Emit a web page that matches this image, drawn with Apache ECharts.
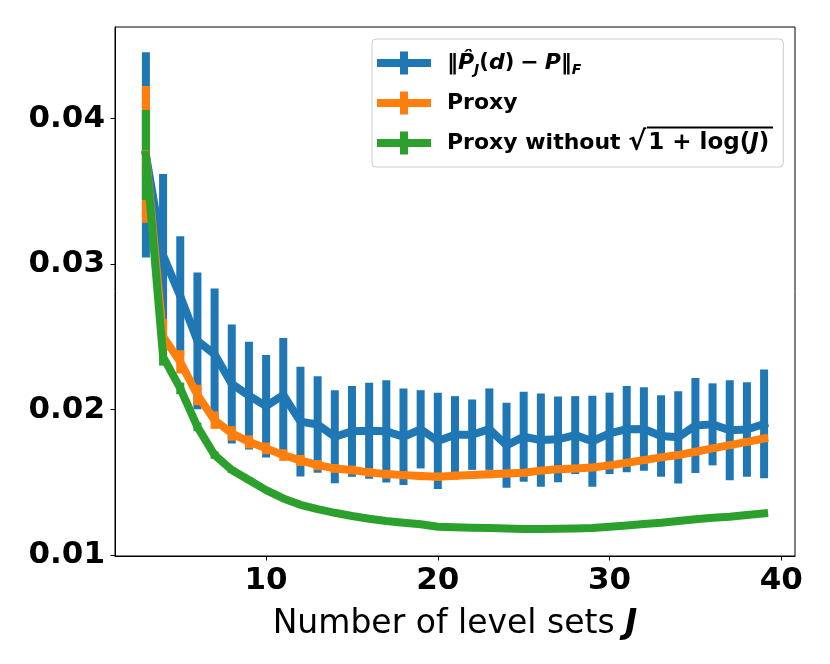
<!DOCTYPE html>
<html>
<head>
<meta charset="utf-8">
<script src="https://cdn.jsdelivr.net/npm/echarts@6/dist/echarts.min.js"></script>
<style>html,body{margin:0;padding:0;background:#fff;}#c{width:830px;height:664px;}</style>
</head>
<body>
<div id="c"></div>
<script>
const J = [3,4,5,6,7,8,9,10,11,12,13,14,15,16,17,18,19,20,21,22,23,24,25,26,27,28,29,30,31,32,33,34,35,36,37,38,39];
const normMean = [0.03751,0.0306,0.02779,0.02472,0.0238,0.02176,0.02096,0.02023,0.02100,0.01917,0.01897,0.01813,0.0185,0.01854,0.0185,0.01813,0.01864,0.01784,0.01827,0.01827,0.01865,0.01754,0.01813,0.0179,0.01795,0.01824,0.01782,0.01836,0.01865,0.01866,0.01818,0.01809,0.0189,0.01898,0.01858,0.01863,0.01901];
const normErr = [0.00706,0.0056,0.00412,0.0047,0.00452,0.00409,0.0037,0.00352,0.00392,0.00377,0.00332,0.0032,0.00312,0.0033,0.00352,0.00332,0.00269,0.00331,0.00265,0.00242,0.0028,0.00292,0.00309,0.00321,0.00295,0.00268,0.00313,0.0028,0.00297,0.00287,0.0028,0.00317,0.00326,0.00282,0.00344,0.00325,0.00374];
const proxyMean = [0.03755,0.0250,0.02328,0.0210,0.01927,0.01836,0.01778,0.01733,0.01687,0.0165,0.01618,0.01595,0.01584,0.01568,0.01556,0.01549,0.01543,0.01538,0.01545,0.0155,0.01555,0.0156,0.01565,0.0158,0.0159,0.01595,0.01602,0.01616,0.01634,0.01652,0.01671,0.01687,0.0171,0.01733,0.01755,0.01778,0.01801];
const proxyErr = [0.0047,0.0012,0.0008,0.0007,0.0006,0.0005,0.00045,0.0004,0.0004,0.00038,0.00035,0.0003,0.0003,0.0003,0.0003,0.00028,0.00028,0.00028,0.00028,0.00027,0.00027,0.00027,0.00027,0.00026,0.00026,0.00026,0.00026,0.00026,0.00025,0.00025,0.00025,0.00025,0.00025,0.00025,0.00025,0.00025,0.00025];
const proxy0Mean = [0.0375,0.02362,0.02145,0.01881,0.01687,0.01584,0.01515,0.01446,0.01389,0.01345,0.01315,0.0129,0.01268,0.01249,0.01234,0.01222,0.01211,0.01194,0.0119,0.01188,0.01185,0.01182,0.01178,0.01178,0.0118,0.01182,0.01185,0.01194,0.01203,0.01213,0.01222,0.01234,0.01245,0.01256,0.01263,0.01275,0.01286];
const proxy0Err = [0.0031,0.0006,0.0004,0.0003,0.00025,0.0002,0.0002,0.00015,0.00015,0.00015,0.00012,0.00012,0.00012,0.0001,0.0001,0.0001,0.0001,0.0001,0.0001,0.0001,0.0001,0.0001,0.0001,0.0001,0.0001,0.0001,0.0001,0.0001,0.0001,0.0001,0.0001,0.0001,0.0001,0.0001,0.0001,0.0001,0.0001];
const xTicks = [10,20,30,40];
const yTicks = [0.01,0.02,0.03,0.04];

const C_BLUE = '#1f77b4', C_ORANGE = '#ff7f0e', C_GREEN = '#2ca02c';
const FONT = 'DejaVu Sans';

function lineData(mean){ return J.map((j,i)=>[j, mean[i]]); }
function errData(mean, err){ return J.map((j,i)=>[j, mean[i]-err[i], mean[i]+err[i]]); }
function errSeries(name, mean, err, color){
  return {
    type:'custom', name: name + '_err', data: errData(mean, err),
    encode:{x:0, y:[1,2]}, clip:true, silent:true,
    renderItem:function(params, api){
      const x = api.value(0), lo = api.value(1), hi = api.value(2);
      const p1 = api.coord([x, hi]), p2 = api.coord([x, lo]);
      const w = 8;
      return {type:'rect', shape:{x:p1[0]-w/2, y:p1[1], width:w, height:p2[1]-p1[1]}, style:{fill:color}};
    }
  };
}
function lineSeries(name, mean, color){
  return {type:'line', name:name, data:lineData(mean), showSymbol:false, symbol:'none',
    lineStyle:{width:8, color:color, cap:'square', join:'round'}, itemStyle:{color:color}};
}

const legendText = {
  norm: '{b|‖}{i|P̂}{s|J}{p|(}{i|d}{p|)}{m|−}{i|P}{b|‖}{s|F}',
  proxy: '{b|Proxy}',
  proxy0: '{b|Proxy without }{r|√}{q|1 + log(}{j|J}{q|)}'
};

const chart = echarts.init(document.getElementById('c'), null, {renderer:'canvas'});
chart.setOption({
  animation:false,
  backgroundColor:'#fff',
  grid:{left:115, right:35, top:27, bottom:108, show:true, borderColor:'#000', borderWidth:1, containLabel:false},
  xAxis:{
    type:'value', min:1.2, max:40.8,
    name:'{n|Number of level sets }{j|J}', nameLocation:'middle', nameGap:52,
    nameTextStyle:{rich:{
      n:{fontFamily:FONT, fontSize:33, color:'#000'},
      j:{fontFamily:FONT, fontSize:33, fontWeight:'bold', fontStyle:'italic', color:'#000'}
    }},
    axisLine:{show:true, lineStyle:{color:'#000', width:1}},
    axisTick:{show:true, length:4.5, lineStyle:{color:'#000'}, customValues:xTicks},
    axisLabel:{show:true, customValues:xTicks, fontFamily:FONT, fontSize:31, fontWeight:'bold', color:'#000', margin:9},
    splitLine:{show:false}
  },
  yAxis:{
    type:'value', min:0.00993, max:0.0463,
    axisLine:{show:true, lineStyle:{color:'#000', width:1}},
    axisTick:{show:true, length:4.5, lineStyle:{color:'#000'}, customValues:yTicks},
    axisLabel:{show:true, customValues:yTicks, fontFamily:FONT, fontSize:31, fontWeight:'bold', color:'#000', margin:10,
      formatter:function(v){return v.toFixed(2);}},
    splitLine:{show:false}
  },
  legend:{
    orient:'vertical', left:372, top:39,
    data:['norm','proxy','proxy0'],
    icon:'path://M0,7.5H54V15.5H0Z M23,0H31V23H23Z',
    itemWidth:54, itemHeight:23, itemGap:12,
    padding:[10,14,10,5],
    backgroundColor:'rgba(255,255,255,0.8)', borderColor:'#ccc', borderWidth:1, borderRadius:4,
    selectedMode:false,
    formatter:function(name){return legendText[name];},
    textStyle:{color:'#000', fontFamily:FONT, fontSize:22, fontWeight:'bold', padding:[0,0,0,11], lineHeight:28,
      rich:{
        b:{fontFamily:FONT, fontSize:22, fontWeight:'bold', color:'#000', lineHeight:28},
        i:{fontFamily:FONT, fontSize:22, fontWeight:'bold', fontStyle:'italic', color:'#000', lineHeight:28},
        p:{fontFamily:FONT, fontSize:21, fontWeight:'bold', color:'#000', lineHeight:28},
        m:{fontFamily:FONT, fontSize:22, fontWeight:'bold', color:'#000', lineHeight:28, padding:[0,6,0,6]},
        s:{fontFamily:FONT, fontSize:14, fontWeight:'bold', fontStyle:'italic', color:'#000', lineHeight:14, verticalAlign:'bottom'},
        r:{fontFamily:FONT, fontSize:27, color:'#000', lineHeight:28, padding:[0,2,0,0]},
        q:{fontFamily:FONT, fontSize:23, fontWeight:'bold', color:'#000', lineHeight:28},
        j:{fontFamily:FONT, fontSize:23, fontWeight:'bold', fontStyle:'italic', color:'#000', lineHeight:28}
      }}
  },
  graphic:[
    {type:'rect', z:100, shape:{x:647, y:126.5, width:126, height:2}, style:{fill:'#000'}}
  ],
  series:[
    lineSeries('norm', normMean, C_BLUE),
    errSeries('norm', normMean, normErr, C_BLUE),
    lineSeries('proxy', proxyMean, C_ORANGE),
    errSeries('proxy', proxyMean, proxyErr, C_ORANGE),
    lineSeries('proxy0', proxy0Mean, C_GREEN),
    errSeries('proxy0', proxy0Mean, proxy0Err, C_GREEN)
  ]
});
</script>
</body>
</html>
